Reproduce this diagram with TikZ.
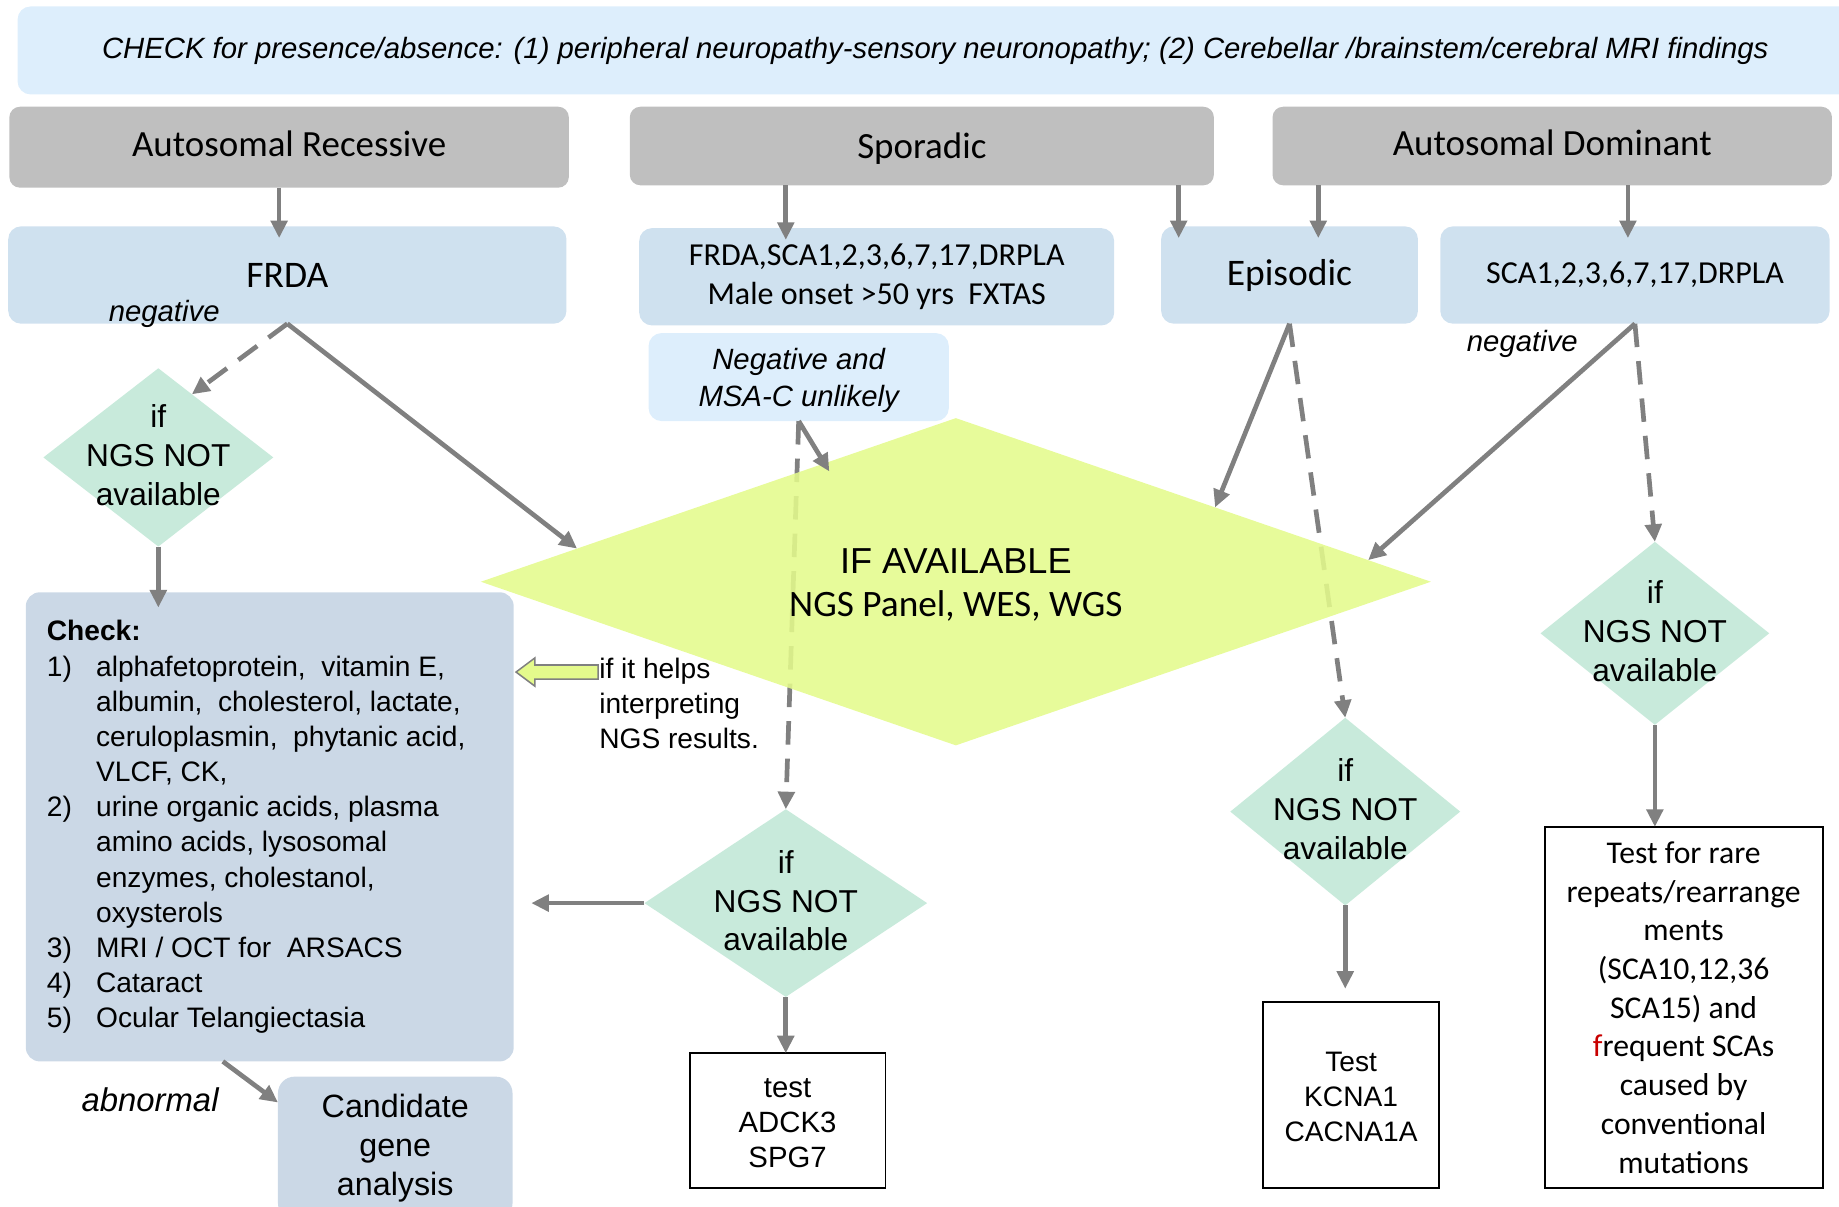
\documentclass[tikz,border=0pt]{standalone}
\usepackage{fontspec}
\setmainfont{Liberation Sans}
\newfontfamily\calfont{Carlito}
\usetikzlibrary{shapes.geometric,arrows.meta,calc}
\definecolor{topblue}{RGB}{221,238,252}
\definecolor{boxgray}{RGB}{191,191,191}
\definecolor{boxblue}{RGB}{207,225,239}
\definecolor{checkblue}{RGB}{203,216,230}
\definecolor{mint}{RGB}{200,234,219}
\definecolor{lime}{RGB}{228,250,140}
\definecolor{arrgray}{RGB}{128,128,128}
\definecolor{darkred}{RGB}{200,0,0}
\newcommand\setfs[2]{\fontsize{#1}{#2}\selectfont}
\begin{document}
\begin{tikzpicture}[x=1pt,y=-1pt,
  every node/.style={inner sep=0pt, outer sep=0pt},
  graybox/.style={fill=boxgray, rounded corners=9pt},
  graytext/.style={font=\calfont\setfs{31.5}{35}},
  bluebox/.style={fill=boxblue, rounded corners=11pt, align=center},
  paleblue/.style={fill=topblue, rounded corners=11pt, align=center},
  mintdia/.style={diamond, fill=mint},
  diatext/.style={align=center, font=\setfs{27}{33}},
  whitebox/.style={draw=black, line width=1.6pt, fill=white, align=center},
  arr/.style={draw=arrgray, line width=4pt, -{Triangle[length=15pt,width=14pt]}},
  darr/.style={arr, dash pattern=on 20pt off 12pt},
  itlabel/.style={font=\itshape\setfs{25}{30}}
]
\useasboundingbox (0,0) rectangle (1568,1029);

% top bar
\node[paleblue, minimum width=1565, minimum height=75, font=\itshape\setfs{25}{29}] (top) at (797.5,43)
  {CHECK for presence/absence: (1) peripheral neuropathy-sensory neuronopathy; (2) Cerebellar /brainstem/cerebral MRI findings};

% inheritance boxes
\node[graybox, minimum width=477, minimum height=69] (ar) at (246.5,125.5) {};
\node[graytext] (artxt) at (246.5,122.5) {Autosomal Recessive};
\node[graybox, minimum width=498, minimum height=67] (spo) at (786,124.5) {};
\node[graytext] (spotxt) at (786,127) {Sporadic};
\node[graybox, minimum width=477, minimum height=67] (ad) at (1323.5,124.5) {};
\node[graytext] (adtxt) at (1323.5,121.5) {Autosomal Dominant};

% second row
\node[bluebox, minimum width=476, minimum height=83, font=\calfont\setfs{32}{35}] (frda) at (245,234.5) {FRDA};
\node[bluebox, minimum width=405, minimum height=83, font=\calfont\setfs{27.3}{33}] (fsca) at (747.5,236) {FRDA,SCA1,2,3,6,7,17,DRPLA\\Male onset >50 yrs~ FXTAS};
\node[bluebox, minimum width=219, minimum height=83, font=\calfont\setfs{32}{35}] (epi) at (1099.5,234.5) {Episodic};
\node[bluebox, minimum width=332, minimum height=83, font=\calfont\setfs{27.3}{33}] (sca) at (1394,234.5) {SCA1,2,3,6,7,17,DRPLA};

\node[itlabel] (neg1) at (140,268) {negative};
\node[itlabel] (neg2) at (1298,293) {negative};

\node[paleblue, minimum width=256, minimum height=75] (msa) at (681,321.5) {};
\node[align=center, font=\itshape\setfs{25}{31}] (msatxt) at (681,324.5) {Negative and\\MSA-C unlikely};

% small diamonds
\node[mintdia, minimum width=196, minimum height=152] (d1) at (135,390) {};
\node[diatext] at ([yshift=2pt]d1.center) {if\\NGS NOT\\available};
\node[mintdia, minimum width=241, minimum height=160] (d2) at (670,770) {};
\node[diatext] at ([yshift=2pt]d2.center) {if\\NGS NOT\\available};
\node[mintdia, minimum width=196, minimum height=160] (d3) at (1147,692) {};
\node[diatext] at ([yshift=2pt]d3.center) {if\\NGS NOT\\available};
\node[mintdia, minimum width=195, minimum height=156] (d4) at (1411,540) {};
\node[diatext] at ([yshift=2pt]d4.center) {if\\NGS NOT\\available};

% dashed lines passing under the big diamond
\draw[darr] (msa.south) -- (d2.north);
\draw[darr] (epi.south) -- (d3.north);

% big diamond
\node[diamond, fill=lime, fill opacity=0.88, minimum width=810, minimum height=279] (big) at (815,496) {};
\node[font=\setfs{30.8}{36}] (ifav) at (815,478) {IF AVAILABLE};
\node[font=\calfont\setfs{31.8}{36}] (ngsp) at (815,517) {NGS Panel, WES, WGS};

% check box
\node[fill=checkblue, rounded corners=12pt, minimum width=416, minimum height=400] (check) at (230,705) {};
\node[anchor=north west, align=left, font=\setfs{24}{30}] (checktxt) at (40,529)
 {\textbf{Check:}\\
  \makebox[42pt][l]{1)}alphafetoprotein,~ vitamin E,\\
  \hspace*{42pt}albumin,~ cholesterol, lactate,\\
  \hspace*{42pt}ceruloplasmin,~ phytanic acid,\\
  \hspace*{42pt}VLCF, CK,\\
  \makebox[42pt][l]{2)}urine organic acids, plasma\\
  \hspace*{42pt}amino acids, lysosomal\\
  \hspace*{42pt}enzymes, cholestanol,\\
  \hspace*{42pt}oxysterols\\
  \makebox[42pt][l]{3)}MRI / OCT for~ ARSACS\\
  \makebox[42pt][l]{4)}Cataract\\
  \makebox[42pt][l]{5)}Ocular Telangiectasia};

\node[fill=checkblue, rounded corners=14pt, minimum width=200, minimum height=122, align=center, font=\setfs{27.5}{33}] (cand) at (337,979) {Candidate\\gene\\analysis};
\node[font=\itshape\setfs{28}{30}] (abn) at (128,938) {abnormal};

% helps text and block arrow
\node[anchor=west, align=left, font=\setfs{24}{30}] (helps) at (511,600) {if it helps\\interpreting\\NGS results.};
\filldraw[fill=lime, draw=arrgray, line width=1.3pt] ($(check.north east)+(2,68)$) -- ++(16,-12) -- ++(0,6) -- ++(54,0) -- ++(0,12) -- ++(-54,0) -- ++(0,6) -- cycle;

% test boxes
\node[whitebox, minimum width=167, minimum height=115] (t1) at (671.5,955.5) {};
\node[align=center, font=\setfs{25}{30}] (t1txt) at (671.5,957.5) {test\\ADCK3\\SPG7};
\node[whitebox, minimum width=150, minimum height=159] (t2) at (1152,933.5) {};
\node[align=center, font=\setfs{24}{30}] (t2txt) at (1152,935.5) {Test\\KCNA1\\CACNA1A};
\node[whitebox, minimum width=237, minimum height=308, font=\calfont\setfs{27}{33}] (t3) at (1435.5,859)
 {Test for rare\\repeats/rearrange\\ments\\(SCA10,12,36\\SCA15) and\\\textcolor{darkred}{f}requent SCAs\\caused by\\conventional\\mutations};

% arrows
\draw[arr, shorten >=-10pt] ([xshift=-8.5pt]ar.south) -- ([xshift=-8.5pt]ar.south |- frda.north);
\draw[arr, shorten >=-10pt] ([xshift=-116pt]spo.south) -- ([xshift=-116pt]spo.south |- fsca.north);
\draw[arr, shorten >=-10pt] ([xshift=219pt]spo.south) -- ([xshift=219pt]spo.south |- epi.north);
\draw[arr, shorten >=-10pt] ([xshift=-199.5pt]ad.south) -- ([xshift=-199.5pt]ad.south |- epi.north);
\draw[arr, shorten >=-10pt] ([xshift=64.5pt]ad.south) -- ([xshift=64.5pt]ad.south |- sca.north);

\draw[darr] (frda.south) -- (d1.62);
\draw[arr] (frda.south) -- (big.175);
\draw[arr, shorten >=-13pt] (d1.south) -- (d1.south |- check.north);
\draw[arr, shorten >=-8pt] (msa.south) -- (big.138);
\draw[arr, shorten >=15pt] (d2.west) -- (d2.west -| check.east);
\draw[arr] (d2.south) -- (d2.south |- t1.north);
\draw[arr] (epi.south) -- (big.16.7);
\draw[arr] (sca.south) -- (big.3);
\draw[darr] (sca.south) -- (d4.north);
\draw[arr, shorten >=11pt] (d3.south) -- (d3.south |- t2.north);
\draw[arr] (d4.south) -- (d4.south |- t3.north);
\draw[arr] ([xshift=-40pt]check.south) -- ([yshift=-22pt]cand.north west);
\end{tikzpicture}
\end{document}
